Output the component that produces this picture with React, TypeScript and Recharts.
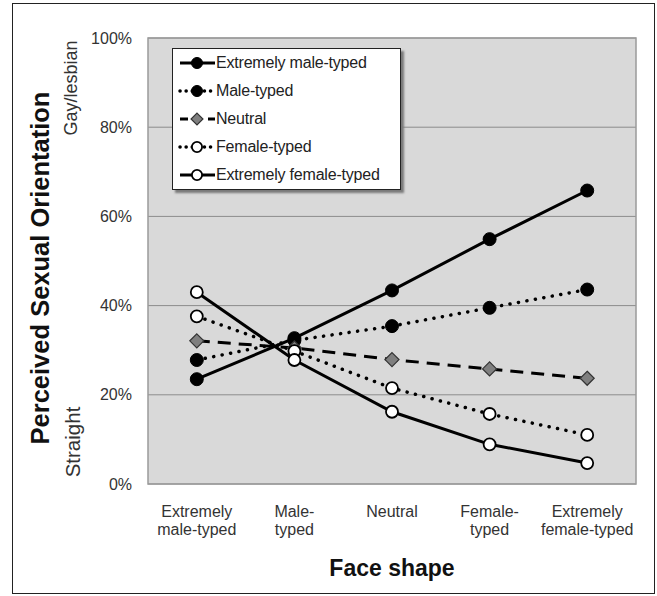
import React from 'react';
import { LineChart, Line, XAxis, YAxis, CartesianGrid, ReferenceArea, Label } from 'recharts';

const faceShapes = ['Extremely male-typed', 'Male-typed', 'Neutral', 'Female-typed', 'Extremely female-typed'];
const tickLines = [['Extremely', 'male-typed'], ['Male-', 'typed'], ['Neutral'], ['Female-', 'typed'], ['Extremely', 'female-typed']];
const yTicks = [0, 20, 40, 60, 80, 100];

// percent perceived gay/lesbian, one list per face-shape condition of the target
const extremelyMale = [23.5, 32.7, 43.4, 54.9, 65.8];
const maleTyped = [27.8, 32.2, 35.4, 39.5, 43.6];
const neutral = [32.1, 30.5, 27.9, 25.8, 23.7];
const femaleTyped = [37.6, 29.8, 21.5, 15.7, 11.0];
const extremelyFemale = [43.0, 27.8, 16.2, 8.9, 4.7];

const font = '"Liberation Sans", Arial, sans-serif';

const data = faceShapes.map((face, i) => ({
  face,
  em: extremelyMale[i],
  m: maleTyped[i],
  n: neutral[i],
  f: femaleTyped[i],
  ef: extremelyFemale[i],
}));

const series = [
  { key: 'em', name: 'Extremely male-typed', dash: undefined, marker: 'filled' },
  { key: 'm', name: 'Male-typed', dash: '0.1 8.5', marker: 'filled' },
  { key: 'n', name: 'Neutral', dash: '13 8', marker: 'diamond' },
  { key: 'f', name: 'Female-typed', dash: '0.1 8.5', marker: 'open' },
  { key: 'ef', name: 'Extremely female-typed', dash: undefined, marker: 'open' },
];

const Marker = ({ cx, cy, type, size = 1 }: any) => {
  if (cx == null || cy == null) return null;
  if (type === 'diamond') {
    const d = 7 * size;
    return (
      <path
        d={`M${cx},${cy - d}L${cx + d},${cy}L${cx},${cy + d}L${cx - d},${cy}Z`}
        fill="#7f7f7f"
        stroke="#333"
        strokeWidth={1.2}
      />
    );
  }
  if (type === 'open') {
    return <circle cx={cx} cy={cy} r={6 * size} fill="#fff" stroke="#000" strokeWidth={1.8} />;
  }
  return <circle cx={cx} cy={cy} r={6.5 * size} fill="#000" stroke="#000" strokeWidth={1} />;
};

const FaceTick = ({ x, y, payload, index }: any) => {
  const lines = tickLines[index] || [payload.value];
  return (
    <text x={x} y={y} textAnchor="middle" fontFamily={font} fontSize={16} fill="#333">
      {lines.map((t, i) => (
        <tspan key={i} x={x} dy={i === 0 ? 25 : 18}>
          {t}
        </tspan>
      ))}
    </text>
  );
};

const YTitles = ({ viewBox }: any) => {
  const top = viewBox.y;
  return (
    <g fontFamily={font}>
      <text
        x={40}
        y={top + 230}
        transform={`rotate(-90 40 ${top + 230})`}
        textAnchor="middle"
        dominantBaseline="central"
        fontSize={25.5}
        fontWeight="bold"
        fill="#111"
      >
        Perceived Sexual Orientation
      </text>
      <text
        x={71}
        y={top + 50}
        transform={`rotate(-90 71 ${top + 50})`}
        textAnchor="middle"
        dominantBaseline="central"
        fontSize={18}
        fill="#333"
      >
        Gay/lesbian
      </text>
      <text
        x={72}
        y={top + 404}
        transform={`rotate(-90 72 ${top + 404})`}
        textAnchor="middle"
        dominantBaseline="central"
        fontSize={20.5}
        fill="#333"
      >
        Straight
      </text>
    </g>
  );
};

const XTitle = ({ viewBox }: any) => (
  <text
    x={viewBox.x + viewBox.width / 2}
    y={568}
    textAnchor="middle"
    dominantBaseline="central"
    fontFamily={font}
    fontSize={23}
    fontWeight="bold"
    fill="#111"
  >
    Face shape
  </text>
);

const LegendIcon = ({ dash, marker }: any) => (
  <svg width={44} height={16} style={{ display: 'block', flex: 'none' }}>
    <line
      x1={8}
      y1={8}
      x2={43}
      y2={8}
      stroke="#000"
      strokeWidth={dash && dash.startsWith('0.1') ? 3.5 : 3}
      strokeDasharray={dash ? (dash.startsWith('0.1') ? '0.1 6' : '8 6') : undefined}
      strokeLinecap={dash && dash.startsWith('0.1') ? 'round' : 'butt'}
    />
    <Marker cx={25} cy={8} type={marker} size={0.85} />
  </svg>
);

const ChartLegend = () => (
  <div
    style={{
      position: 'absolute',
      left: 172,
      top: 48,
      width: 229,
      height: 142,
      boxSizing: 'border-box',
      background: '#fff',
      border: '1.5px solid #222',
      boxShadow: '3px 3px 2px #7a7a7a',
      fontFamily: font,
      fontSize: 16,
      color: '#222',
    }}
  >
    {series.map((s) => (
      <div key={s.key} style={{ height: 28, display: 'flex', alignItems: 'center' }}>
        <div style={{ marginLeft: -1 }}>
          <LegendIcon dash={s.dash} marker={s.marker} />
        </div>
        <span style={{ letterSpacing: -0.2, whiteSpace: 'nowrap' }}>{s.name}</span>
      </div>
    ))}
  </div>
);

export default function App() {
  return (
    <div style={{ position: 'absolute', left: 0, top: 0, width: 657, height: 596, background: '#fff' }}>
      <div
        style={{
          position: 'absolute',
          left: 12,
          top: 3,
          width: 643,
          height: 591,
          boxSizing: 'border-box',
          border: '1px solid #222',
        }}
      />
      <div style={{ position: 'absolute', left: 0, top: 0 }}>
        <LineChart width={657} height={596} data={data} margin={{ top: 38, right: 21, bottom: 52, left: 0 }}>
          <CartesianGrid vertical={false} fill="#d9d9d9" stroke="#8c8c8c" strokeWidth={1} />
          <ReferenceArea y1={0} y2={100} fill="none" stroke="#9a9a9a" strokeWidth={1.5} />
          <XAxis
            dataKey="face"
            scale="band"
            axisLine={false}
            tickLine={false}
            height={60}
            interval={0}
            tick={<FaceTick />}
          >
            <Label content={<XTitle />} />
          </XAxis>
          <YAxis
            type="number"
            domain={[0, 100]}
            ticks={yTicks}
            tickFormatter={(v) => `${v}%`}
            axisLine={false}
            tickLine={false}
            width={148}
            tickMargin={10}
            tick={{ fontSize: 16, fill: '#333', fontFamily: font }}
          >
            <Label content={<YTitles />} />
          </YAxis>
          {series.map((s) => (
            <Line
              key={s.key}
              dataKey={s.key}
              name={s.name}
              type="linear"
              stroke="#000"
              strokeWidth={s.dash && s.dash.startsWith('0.1') ? 3.5 : 3}
              strokeDasharray={s.dash}
              strokeLinecap={s.dash && s.dash.startsWith('0.1') ? 'round' : 'butt'}
              dot={(p: any) => <Marker key={`${s.key}-${p.index}`} cx={p.cx} cy={p.cy} type={s.marker} />}
              activeDot={false}
              isAnimationActive={false}
            />
          ))}
        </LineChart>
      </div>
      <ChartLegend />
    </div>
  );
}
